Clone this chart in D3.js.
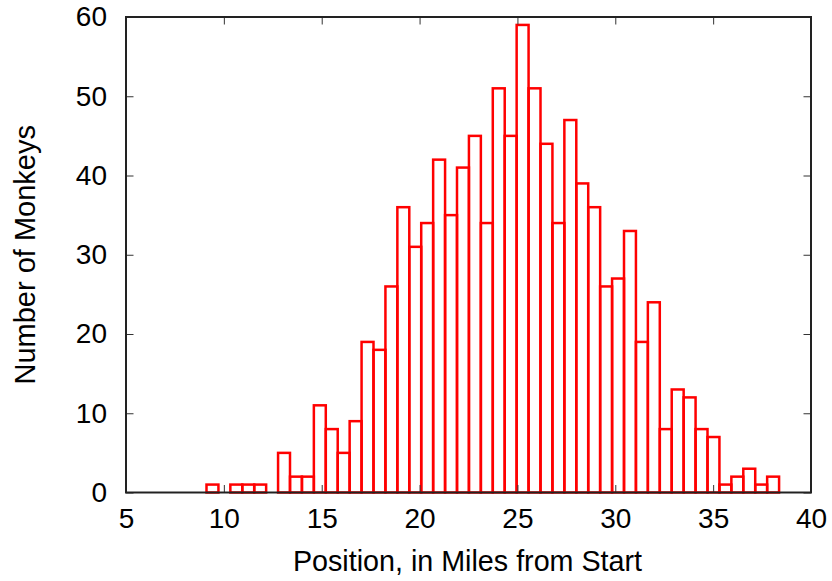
<!doctype html>
<html lang="en">
<head>
<meta charset="utf-8">
<title>Monkey positions</title>
<script src="https://cdn.jsdelivr.net/npm/d3@7"></script>
<style>
    body { margin: 0; background: #fff; }
    text { font-family: "Liberation Sans", Arial, sans-serif; fill: #000; }
</style>
</head>
<body>
<svg id="chart"></svg>
<script>
    // histogram bins: first bin edge and width (miles), then counts per bin
    const binStart = 9.113;
    const binWidth = 0.6095;
    const counts = [1, 0, 1, 1, 1, 0,
        5, 2, 2, 11, 8, 5, 9, 19, 18, 26,
        36, 31, 34, 42, 35, 41, 45, 34, 51, 45,
        59, 51, 44, 34, 47, 39, 36, 26, 27, 33,
        19, 24, 8, 13, 12, 8, 7, 1, 2, 3,
        1, 2];
    const xTicks = [5, 10, 15, 20, 25, 30, 35, 40];
    const yTicks = [0, 10, 20, 30, 40, 50, 60];

    const W = 832, H = 581;
    const margin = { top: 17, right: 21, bottom: 88.5, left: 126 };
    const width = W - margin.left - margin.right,
        height = H - margin.top - margin.bottom;

    const svg = d3.select("#chart")
        .attr("width", W)
        .attr("height", H);

    const g = svg.append("g")
        .attr("transform", `translate(${margin.left},${margin.top})`);

    const x = d3.scaleLinear().domain([5, 40]).range([0, width]);
    const y = d3.scaleLinear().domain([0, 60]).range([height, 0]);

    const bins = counts.map((c, i) => ({
        x0: binStart + i * binWidth,
        x1: binStart + (i + 1) * binWidth,
        n: c
    })).filter(d => d.n > 0);

    // bars (outlined boxes like gnuplot)
    g.selectAll("rect.bar")
        .data(bins)
        .enter().append("rect")
        .attr("class", "bar")
        .attr("x", d => x(d.x0))
        .attr("y", d => y(d.n))
        .attr("width", d => x(d.x1) - x(d.x0))
        .attr("height", d => y(0) - y(d.n))
        .attr("fill", "none")
        .attr("stroke", "#ff0000")
        .attr("stroke-width", 2.5);

    // axes: ticks pointing inward, mirrored on top / right
    const tickLen = 7.5;
    const fs = 28;

    const xBottom = d3.axisBottom(x).tickValues(xTicks).tickSizeInner(-tickLen).tickSizeOuter(0).tickPadding(16);
    const xTop = d3.axisTop(x).tickValues(xTicks).tickSizeInner(-tickLen).tickSizeOuter(0).tickFormat("");
    const yLeft = d3.axisLeft(y).tickValues(yTicks).tickSizeInner(-tickLen).tickSizeOuter(0).tickPadding(19);
    const yRight = d3.axisRight(y).tickValues(yTicks).tickSizeInner(-tickLen).tickSizeOuter(0).tickFormat("");

    function styleAxis(sel) {
        sel.select(".domain").remove();
        sel.selectAll(".tick line").attr("stroke", "#333").attr("stroke-width", 1);
        sel.selectAll(".tick text")
            .style("font-size", fs + "px")
            .style("font-family", "'Liberation Sans', Arial, sans-serif")
            .attr("fill", "#000");
    }

    g.append("g").attr("transform", `translate(0,${height})`).call(xBottom).call(styleAxis);
    g.append("g").call(xTop).call(styleAxis);
    g.append("g").call(yLeft).call(styleAxis);
    g.append("g").attr("transform", `translate(${width},0)`).call(yRight).call(styleAxis);

    // border box
    g.append("rect")
        .attr("x", 0).attr("y", 0)
        .attr("width", width).attr("height", height)
        .attr("fill", "none")
        .attr("stroke", "#222")
        .attr("stroke-width", 2);

    // axis titles
    svg.append("text")
        .attr("x", margin.left + width / 2 - 1)
        .attr("y", 571)
        .attr("text-anchor", "middle")
        .style("font-size", "28.7px")
        .text("Position, in Miles from Start");

    svg.append("text")
        .attr("transform", `translate(35,${margin.top + height / 2}) rotate(-90)`)
        .attr("text-anchor", "middle")
        .style("font-size", "29px")
        .text("Number of Monkeys");
</script>
</body>
</html>
